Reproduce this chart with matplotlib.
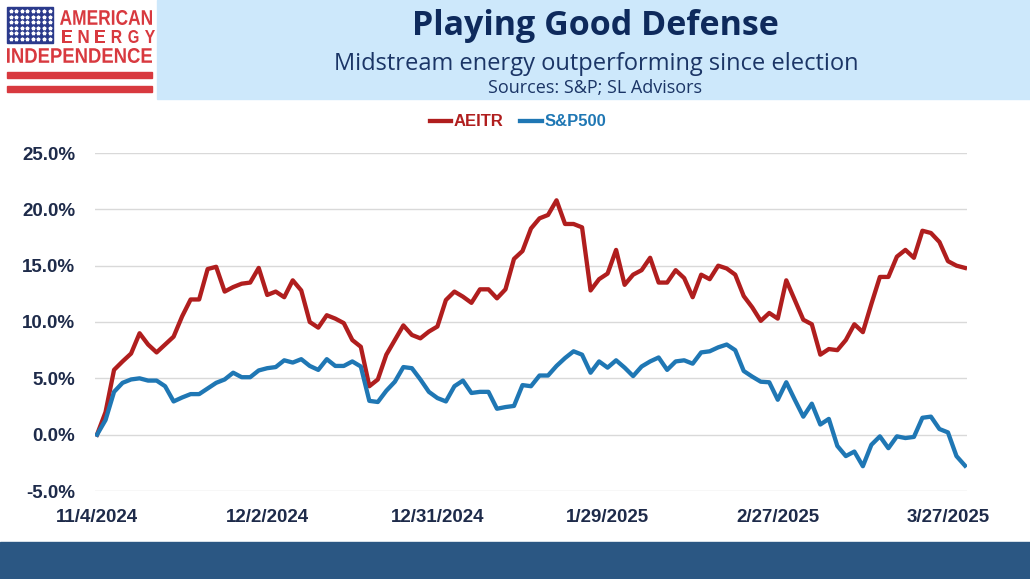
import matplotlib.pyplot as plt
from matplotlib.patches import Rectangle, PathPatch
from matplotlib.textpath import TextPath
from matplotlib.font_manager import FontProperties
from matplotlib.transforms import Affine2D
import numpy as np

# values (cumulative return, %)
aeitr = [0.0, 2.0, 5.75, 6.5, 7.2, 9.0, 8.0, 7.3, 8.0, 8.7,
         10.5, 12.0, 12.0, 14.7, 14.9, 12.7, 13.1, 13.4, 13.5, 14.8,
         12.4, 12.7, 12.2, 13.7, 12.8, 10.0, 9.5, 10.6, 10.3, 9.9,
         8.4, 7.8, 4.3, 4.9, 7.1, 8.4, 9.7, 8.85, 8.55, 9.15,
         9.6, 11.95, 12.7, 12.25, 11.7, 12.9, 12.9, 12.1, 12.9, 15.6,
         16.3, 18.3, 19.2, 19.5, 20.8, 18.7, 18.7, 18.4, 12.8, 13.8,
         14.3, 16.4, 13.3, 14.2, 14.6, 15.7, 13.5, 13.5, 14.6, 13.9,
         12.2, 14.2, 13.8, 15.0, 14.75, 14.2, 12.3, 11.3, 10.1, 10.8,
         10.3, 13.7, 11.95, 10.2, 9.8, 7.1, 7.6, 7.5, 8.4, 9.8,
         9.1, 11.6, 14.0, 14.0, 15.8, 16.4, 15.7, 18.1, 17.9, 17.1,
         15.4, 15.0, 14.8]
sp500 = [0.0, 1.3, 3.8, 4.6, 4.9, 5.0, 4.8, 4.8, 4.3, 2.95,
         3.3, 3.6, 3.6, 4.1, 4.6, 4.9, 5.5, 5.1, 5.1, 5.7,
         5.9, 6.0, 6.6, 6.4, 6.7, 6.1, 5.75, 6.7, 6.1, 6.1,
         6.5, 6.05, 3.0, 2.9, 3.9, 4.7, 6.0, 5.9, 4.9, 3.8,
         3.25, 2.95, 4.3, 4.8, 3.7, 3.8, 3.8, 2.3, 2.45, 2.55,
         4.4, 4.3, 5.25, 5.25, 6.1, 6.8, 7.4, 7.1, 5.5, 6.5,
         5.95, 6.6, 5.95, 5.2, 6.05, 6.5, 6.85, 5.75, 6.5, 6.6,
         6.3, 7.3, 7.4, 7.75, 8.0, 7.5, 5.65, 5.15, 4.7, 4.65,
         3.1, 4.65, 3.1, 1.6, 2.75, 0.9, 1.4, -1.0, -1.9, -1.5,
         -2.8, -0.9, -0.15, -1.2, -0.15, -0.3, -0.2, 1.5, 1.6, 0.5,
         0.2, -1.9, -2.75]
tick_pos = [0, 20, 40, 60, 80, 100]
tick_labels = ["11/4/2024", "12/2/2024", "12/31/2024", "1/29/2025", "2/27/2025", "3/27/2025"]
y_ticks = [-5, 0, 5, 10, 15, 20, 25]

W, H = 1030, 579
RED = "#B01E1E"
BLUE = "#1F77B4"
NAVY = "#1E2B4A"
LOGO_RED = "#D8393F"

fig = plt.figure(figsize=(W / 100, H / 100), dpi=100)

# full-figure overlay in pixel coords for the header / footer decoration
bg = fig.add_axes([0, 0, 1, 1])
bg.set_xlim(0, W)
bg.set_ylim(H, 0)
bg.axis("off")
bg.add_patch(Rectangle((157, 0), W - 157, 99, color="#CDE8FB"))
bg.add_patch(Rectangle((0, 542), W, H - 542, color="#2B5783"))

# logo
bg.add_patch(Rectangle((7, 7), 46, 36, color="#2B3A8C"))
sx, sy = np.meshgrid(np.linspace(10.5, 49.5, 8), np.linspace(11, 39, 6))
bg.plot(sx.ravel(), sy.ravel(), ls="none", marker="*", ms=2.6, mfc="white", mec="white")
bg.add_patch(Rectangle((7, 72), 145, 6, color=LOGO_RED))
bg.add_patch(Rectangle((7, 86), 145, 6, color=LOGO_RED))

logo_prop = FontProperties(family="Liberation Sans", weight="bold")


def fit_text(s, x0, x1, ytop, ybot):
    path = TextPath((0, 0), s, size=20, prop=logo_prop)
    bb = path.get_extents()
    tr = (Affine2D().translate(-bb.x0, -bb.y0)
          .scale((x1 - x0) / bb.width, -(ybot - ytop) / bb.height)
          .translate(x0, ybot))
    bg.add_patch(PathPatch(tr.transform_path(path), fc=LOGO_RED, ec="none"))


fit_text("AMERICAN", 60, 152, 10, 25)
for k, ch in enumerate("ENERGY"):
    cx = 67 + k * 16.6
    fit_text(ch, cx - 5, cx + 5, 30, 43)
fit_text("INDEPENDENCE", 7, 152, 48, 63)

# titles
fig.text(595 / W, 1 - 26 / H, "Playing Good Defense", ha="center", va="center",
         fontsize=24.5, fontweight="bold", family="Open Sans", color="#0E2A5C")
fig.text(596 / W, 1 - 64 / H, "Midstream energy outperforming since election", ha="center",
         va="center", fontsize=17, family="Open Sans", color="#1B3566")
fig.text(595 / W, 1 - 88 / H, "Sources: S&P; SL Advisors", ha="center", va="center",
         fontsize=13, family="Open Sans", color="#1B3566")

# chart
x = np.arange(len(aeitr))
ax = fig.add_axes([94.9 / W, 1 - 491 / H, 872.2 / W, 338 / H])
ax.patch.set_alpha(0)
ax.plot(x, aeitr, color=RED, lw=3.1, label="AEITR", solid_joinstyle="round")
ax.plot(x, sp500, color=BLUE, lw=3.1, label="S&P500", solid_joinstyle="round")
ax.set_xlim(-0.25, len(aeitr) - 1 + 0.25)
ax.set_ylim(-5, 25)
ax.set_yticks(y_ticks)
ax.set_yticklabels([f"{v:.1f}%" for v in y_ticks])
ax.set_xticks(tick_pos)
ax.set_xticklabels(tick_labels)
ax.grid(axis="y", color="#D9D9D9", lw=1)
ax.set_axisbelow(True)
for s in ax.spines.values():
    s.set_visible(False)
ax.tick_params(axis="y", length=0, pad=14)
ax.tick_params(axis="x", length=0, pad=13)
for lab in ax.get_xticklabels() + ax.get_yticklabels():
    lab.set_family("Liberation Sans")
    lab.set_fontweight("bold")
    lab.set_fontsize(13.5)
    lab.set_color(NAVY)

ax.legend(loc="center", bbox_to_anchor=(518 / W, 1 - 122 / H), bbox_transform=fig.transFigure,
          ncol=2, frameon=False, handlelength=1.3, handletextpad=0.15, columnspacing=1.0,
          labelcolor="linecolor", prop=dict(family="Liberation Sans", weight="bold", size=12))

fig.savefig("out.png", dpi=100)
